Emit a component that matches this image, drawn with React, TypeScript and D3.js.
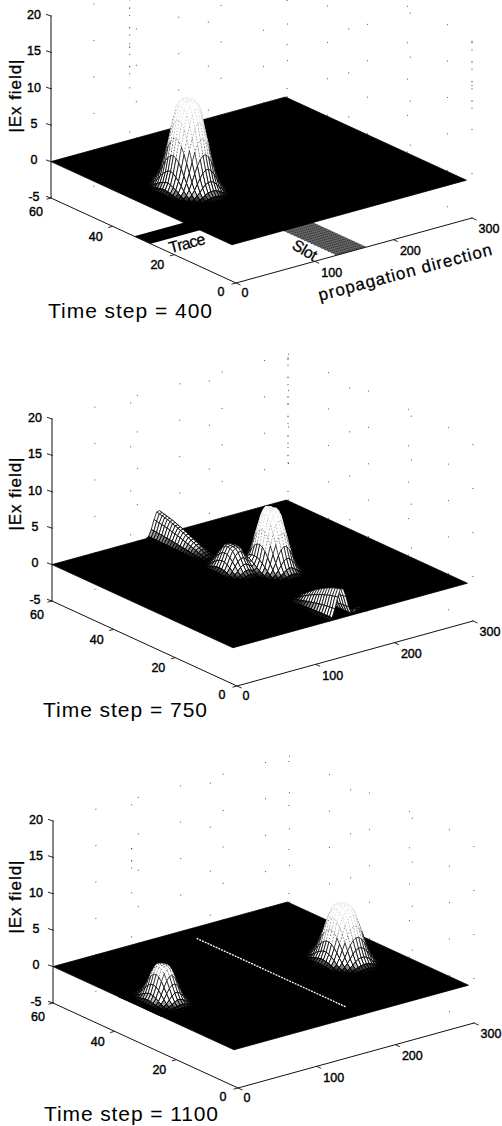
import React, { useRef, useEffect } from 'react';
import * as d3 from 'd3';

const width = 502;
const height = 1126;

// axis ticks
const xTicks = [0, 100, 200, 300];
const yTicks = [0, 20, 40, 60];
const zTicks = [-5, 0, 5, 10, 15, 20];

// one panel per time step, origin is where x=0, y=0, z=-5 lands on the page
const timeSteps = [400, 750, 1100];
const originX = [236, 237, 238];
const originY = [283, 686, 1088];
const captionX = [48, 43, 44];
const captionY = [311, 710, 1114];
const captionLength = [164, 164, 174];
const fieldLabelShift = [-187, -192, -191];
const panelMax = [12, 8.2, 7.5];

// field pulses
const pulseStep = [400, 750, 750, 1100, 1100, 1100];
const pulseX = [65, 135, 169, 30, 30, 243];
const pulseY = [32, 36, 32, 32, 32, 28];
const pulseHeight = [12, 3.3, 8.2, 4.2, 0.6, 7.5];
const pulseSpreadX = [34, 23, 27, 23, 36, 33];
const pulseSpreadY = [9.5, 7.5, 8, 7, 12, 9];
const pulseProfile = [1, 1, 1, 0.92, 0.74, 0.54, 0.36, 0.2, 0.09, 0.03, 0];

// wave fronts running out through the edges at t=750
const ridgeAX = 135;
const ridgeAY = [60, 56, 52, 48, 44, 42];
const ridgeAZ = [3.6, 3.1, 2.4, 1.5, 0.6, 0];
const ridgeBX = 138;
const ridgeBY = [1.3, 4, 7, 10, 13, 16];
const ridgeBZ = [4.3, 3.9, 3.2, 2.3, 1.2, 0];
const ridgeCX = 160;
const ridgeCY = [1.3, 2.5, 4];
const ridgeCZ = [0.9, 0.6, 0];
const ridgeCross = [1, 0.85, 0.5, 0.15, 0];

// slot field line at t=1100
const slotLineX = 163;
const slotLineY = [6.7, 55];

// structure drawn on the floor at t=400
const traceX = [0, 80];
const traceY = [27.7, 33];
const slotX = [128, 166];
const slotY = [0, 40];

// grid lines that survive the scan better than the rest
const densePanel = [0, 0, 1, 2];
const denseX = [100, 300, 300, 100];
const denseY = [60, 0, 60, 60];
const denseZ0 = [9, 10, 5, 10.5];
const denseZ1 = [20, 20, 20, 13.5];

// surface extent
const gridX = d3.range(0, 299, 3.5);
const gridY = d3.range(1.3, 60.1, 0.85);

const xDx = d3.scaleLinear().domain([0, 300]).range([0, 236]);
const xDy = d3.scaleLinear().domain([0, 300]).range([0, -65]);
const yDx = d3.scaleLinear().domain([0, 60]).range([0, -185]);
const yDy = d3.scaleLinear().domain([0, 60]).range([0, -85]);
const zDy = d3.scaleLinear().domain([-5, 20]).range([0, -182]);

const radial = d3.scaleLinear()
  .domain(pulseProfile.map((_, i) => i / (pulseProfile.length - 1)))
  .range(pulseProfile)
  .clamp(true);
const cross = d3.scaleLinear()
  .domain(ridgeCross.map((_, i) => i / (ridgeCross.length - 1)))
  .range(ridgeCross)
  .clamp(true);

const ridgeA = d3.scaleLinear().domain(ridgeAY).range(ridgeAZ).clamp(true);
const ridgeB = d3.scaleLinear().domain(ridgeBY).range(ridgeBZ).clamp(true);
const ridgeC = d3.scaleLinear().domain(ridgeCY).range(ridgeCZ).clamp(true);

function fieldAt(step: number, x: number, y: number) {
  let z = 0;
  pulseStep.forEach((s, i) => {
    if (s !== step) return;
    const dx = (x - pulseX[i]) / pulseSpreadX[i];
    const dy = (y - pulseY[i]) / pulseSpreadY[i];
    z += pulseHeight[i] * radial(Math.sqrt(dx * dx + dy * dy));
  });
  if (step === 750) {
    z += ridgeA(y) * cross(Math.abs(x - ridgeAX) / 14);
    z += ridgeB(y) * cross(Math.abs(x - ridgeBX) / 14);
    z += ridgeC(y) * cross(Math.abs(x - ridgeCX) / 9);
  }
  return z;
}

const faceColor = d3.scaleLinear<string>().domain([0.15, 0.7, 1.4]).range(['#000', '#444', '#fff']).clamp(true);
const edgeWidth = d3.scaleLinear().domain([0, 0.3, 0.6, 0.85, 1]).range([0.95, 0.8, 0.55, 0.25, 0.1]).clamp(true);

export default function App() {
  const svgRef = useRef<SVGSVGElement>(null);

  useEffect(() => {
    const svg = d3.select(svgRef.current);
    svg.selectAll('*').remove();
    svg.attr('width', width).attr('height', height);
    svg.append('rect').attr('width', width).attr('height', height).attr('fill', '#fff');

    timeSteps.forEach((step, p) => {
      const g = svg.append('g').style('font-family', '"Liberation Sans", Arial, sans-serif');
      const project = (x: number, y: number, z: number): [number, number] => [
        originX[p] + xDx(x) + yDx(y),
        originY[p] + xDy(x) + yDy(y) + zDy(z),
      ];
      const line = d3.line();
      const seg = (a: number[], b: number[]) =>
        line([project(a[0], a[1], a[2]), project(b[0], b[1], b[2])]);

      // sparse dotted box and grid behind the surface
      const gridLines: number[][][] = [];
      zTicks.slice(1).forEach(z => {
        gridLines.push([[0, 60, z], [300, 60, z]]);
        gridLines.push([[300, 60, z], [300, 0, z]]);
      });
      xTicks.slice(1).forEach(x => gridLines.push([[x, 60, -5], [x, 60, 20]]));
      yTicks.slice(0, 3).forEach(y => gridLines.push([[300, y, -5], [300, y, 20]]));
      gridLines.push([[0, 60, -5], [300, 60, -5]]);
      gridLines.push([[300, 60, -5], [300, 0, -5]]);
      g.append('g')
        .selectAll('path')
        .data(gridLines)
        .join('path')
        .attr('d', d => seg(d[0], d[1]))
        .attr('fill', 'none')
        .attr('stroke', '#333')
        .attr('stroke-width', 0.9)
        .attr('stroke-dasharray', '1 43');

      g.append('g')
        .selectAll('path')
        .data(densePanel.flatMap((q, i) => (q === p ? [i] : [])))
        .join('path')
        .attr('d', i => seg([denseX[i], denseY[i], denseZ0[i]], [denseX[i], denseY[i], denseZ1[i]]))
        .attr('fill', 'none')
        .attr('stroke', '#444')
        .attr('stroke-width', 1)
        .attr('stroke-dasharray', '1 6 1.5 11');

      // floor structure
      if (step === 400) {
        const band = (xr: number[], yr: number[]) =>
          line([
            project(xr[0], yr[0], -5),
            project(xr[1], yr[0], -5),
            project(xr[1], yr[1], -5),
            project(xr[0], yr[1], -5),
          ]) + 'Z';
        g.append('path').attr('d', band(traceX, traceY)).attr('fill', '#000');
        g.append('path').attr('d', band(slotX, slotY)).attr('fill', '#666');
        g.append('g')
          .selectAll('path')
          .data(d3.range(slotY[0] + 0.6, slotY[1], 1.1))
          .join('path')
          .attr('d', y => seg([slotX[0], y, -5], [slotX[1], y, -5]))
          .attr('stroke', '#111')
          .attr('stroke-width', 0.8)
          .attr('stroke-dasharray', '1.2 1');
      }

      // flat part of the surface
      const x0 = gridX[0];
      const x1 = 298;
      const y0 = gridY[0];
      const y1 = 60;
      g.append('path')
        .attr('d', line([project(x0, y0, 0), project(x1, y0, 0), project(x1, y1, 0), project(x0, y1, 0)]) + 'Z')
        .attr('fill', '#000')
        .attr('stroke', '#000')
        .attr('stroke-width', 0.8);

      // raised cells, far corner first
      const cells: { d: string; z: number }[] = [];
      for (let i = gridX.length - 2; i >= 0; i--) {
        for (let j = gridY.length - 2; j >= 0; j--) {
          const xa = gridX[i];
          const xb = gridX[i + 1];
          const ya = gridY[j];
          const yb = gridY[j + 1];
          const zs = [fieldAt(step, xa, ya), fieldAt(step, xb, ya), fieldAt(step, xb, yb), fieldAt(step, xa, yb)];
          const top = d3.max(zs) as number;
          if (top < 0.02) continue;
          cells.push({
            d: line([project(xa, ya, zs[0]), project(xb, ya, zs[1]), project(xb, yb, zs[2]), project(xa, yb, zs[3])]) + 'Z',
            z: top,
          });
        }
      }
      g.append('g')
        .selectAll('path')
        .data(cells)
        .join('path')
        .attr('d', d => d.d)
        .attr('fill', d => faceColor(d.z))
        .attr('stroke', '#000')
        .attr('stroke-width', d => edgeWidth(d.z / panelMax[p]))
        .attr('stroke-dasharray', d => (d.z / panelMax[p] > 0.55 ? '0.9 2.4' : null));

      if (step === 1100) {
        g.append('path')
          .attr('d', seg([slotLineX, slotLineY[0], 0], [slotLineX, slotLineY[1], 0]))
          .attr('stroke', '#fff')
          .attr('stroke-width', 1.3)
          .attr('stroke-dasharray', '2 1');
      }

      // axes
      const axisStroke = { stroke: '#111', width: 1 };
      const axisLines = [
        [[0, 0, -5], [300, 0, -5]],
        [[0, 0, -5], [0, 60, -5]],
        [[0, 60, -5], [0, 60, 20]],
      ];
      g.append('g')
        .selectAll('path')
        .data(axisLines)
        .join('path')
        .attr('d', d => seg(d[0], d[1]))
        .attr('stroke', axisStroke.stroke)
        .attr('stroke-width', axisStroke.width);

      const tickMarks = (pts: number[][], vx: number, vy: number) =>
        g.append('g')
          .selectAll('path')
          .data(pts)
          .join('path')
          .attr('d', d => {
            const [a, b] = project(d[0], d[1], d[2]);
            return line([[a, b], [a + vx, b + vy]]);
          })
          .attr('stroke', axisStroke.stroke)
          .attr('stroke-width', 0.9);
      tickMarks(xTicks.map(x => [x, 0, -5]), 4.5, 2);
      tickMarks(yTicks.map(y => [0, y, -5]), -4.5, 1.2);
      tickMarks(zTicks.map(z => [0, 60, z]), -5, -1.7);

      const label = (txt: string, px: number, py: number) =>
        g.append('text')
          .attr('x', px)
          .attr('y', py)
          .attr('dy', '0.35em')
          .attr('text-anchor', 'middle')
          .attr('font-size', 12.5)
          .attr('fill', '#000')
          .attr('stroke', '#000')
          .attr('stroke-width', 0.4)
          .text(txt);
      xTicks.forEach(x => {
        const [a, b] = project(x, 0, -5);
        if (x === 0) label('0', a + 9, b + 10);
        else label(String(x), a + 17, b + 11);
      });
      yTicks.forEach(y => {
        const [a, b] = project(0, y, -5);
        if (y === 60) label('60', a - 15, b + 13.5);
        else if (y === 0) label('0', a - 15, b + 9);
        else label(String(y), a - 17, b + 10);
      });
      zTicks.forEach(z => {
        const [a, b] = project(0, 60, z);
        label(String(z), a - 17, b - 1.5);
      });

      // titles
      g.append('text')
        .attr('transform', `translate(15,${originY[p] + fieldLabelShift[p]}) rotate(-90)`)
        .attr('text-anchor', 'middle')
        .attr('dy', '0.35em')
        .attr('font-size', 17)
        .attr('textLength', 73)
        .attr('lengthAdjust', 'spacing')
        .attr('fill', '#000')
        .attr('stroke', '#000')
        .attr('stroke-width', 0.3)
        .text('|Ex field|');
      g.append('text')
        .attr('x', captionX[p])
        .attr('y', captionY[p])
        .attr('dy', '0.35em')
        .attr('font-size', 21)
        .attr('textLength', captionLength[p])
        .attr('lengthAdjust', 'spacing')
        .attr('fill', '#000')
        .text(`Time step = ${step}`);

      if (step === 400) {
        const tag = (txt: string, px: number, py: number, angle: number, size: number, len: number) =>
          g.append('text')
            .attr('transform', `translate(${px},${py}) rotate(${angle})`)
            .attr('text-anchor', 'middle')
            .attr('dy', '0.35em')
            .attr('font-size', size)
            .attr('textLength', len)
            .attr('lengthAdjust', 'spacing')
            .attr('fill', '#000')
            .attr('stroke', '#000')
            .attr('stroke-width', 0.25)
            .text(txt);
        tag('Trace', 187, 243, -15, 16, 37);
        tag('Slot', 305, 250, 30, 16, 26);
        tag('propagation direction', 405, 272, -15, 17, 179);
      }
    });
  }, []);

  return <svg ref={svgRef} style={{ position: 'absolute', left: 0, top: 0, display: 'block' }} />;
}
